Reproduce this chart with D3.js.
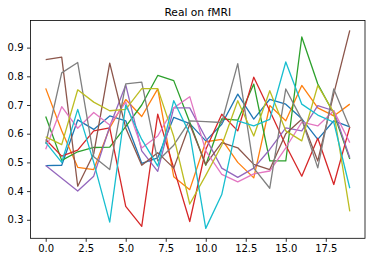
<!DOCTYPE html>
<meta charset="utf-8">
<html>
<head>
<title>Real on fMRI</title>
<script src="https://d3js.org/d3.v7.min.js"></script>
<style>
  body { margin: 0; background: #fff; }
  text { font-family: "DejaVu Sans", sans-serif; fill: #000; }
  .axis path, .axis line { stroke: #000; stroke-width: 0.8px; }
  .axis text { font-size: 10px; }
</style>
</head>
<body>
<div id="chart"></div>
<script>
// time steps 0..19
var steps = d3.range(20);

var xTicks = [0, 2.5, 5, 7.5, 10, 12.5, 15, 17.5];
var yTicks = [0.3, 0.4, 0.5, 0.6, 0.7, 0.8, 0.9];

// one array per run
var s0 = [0.489, 0.49, 0.648, 0.615, 0.662, 0.645, 0.497, 0.516, 0.657, 0.635, 0.575, 0.633, 0.738, 0.651, 0.72, 0.703, 0.652, 0.58, 0.645, 0.624];
var s1 = [0.758, 0.61, 0.483, 0.475, 0.62, 0.719, 0.66, 0.756, 0.45, 0.405, 0.572, 0.58, 0.5, 0.446, 0.698, 0.645, 0.768, 0.69, 0.662, 0.703];
var s2 = [0.66, 0.507, 0.537, 0.552, 0.553, 0.625, 0.7, 0.803, 0.785, 0.64, 0.49, 0.652, 0.647, 0.773, 0.505, 0.505, 0.937, 0.773, 0.67, 0.512];
var s3 = [0.58, 0.522, 0.543, 0.61, 0.62, 0.347, 0.277, 0.668, 0.48, 0.294, 0.545, 0.668, 0.61, 0.797, 0.68, 0.56, 0.452, 0.584, 0.423, 0.624];
var s4 = [0.489, 0.445, 0.4, 0.452, 0.625, 0.77, 0.54, 0.469, 0.69, 0.69, 0.585, 0.48, 0.448, 0.48, 0.545, 0.62, 0.61, 0.698, 0.68, 0.516];
var s5 = [0.858, 0.867, 0.417, 0.53, 0.846, 0.62, 0.49, 0.534, 0.48, 0.633, 0.493, 0.569, 0.551, 0.493, 0.475, 0.6, 0.65, 0.505, 0.74, 0.96];
var s6 = [0.546, 0.694, 0.619, 0.674, 0.63, 0.71, 0.55, 0.592, 0.69, 0.729, 0.54, 0.458, 0.432, 0.46, 0.47, 0.551, 0.64, 0.627, 0.68, 0.569];
var s7 = [0.565, 0.812, 0.848, 0.52, 0.475, 0.774, 0.78, 0.505, 0.56, 0.645, 0.642, 0.639, 0.844, 0.48, 0.41, 0.756, 0.65, 0.481, 0.756, 0.621];
var s8 = [0.589, 0.562, 0.753, 0.71, 0.68, 0.685, 0.757, 0.757, 0.59, 0.355, 0.455, 0.56, 0.715, 0.592, 0.75, 0.61, 0.575, 0.768, 0.674, 0.329];
var s9 = [0.57, 0.5, 0.685, 0.5, 0.292, 0.7, 0.58, 0.487, 0.715, 0.6, 0.27, 0.388, 0.645, 0.627, 0.65, 0.85, 0.703, 0.665, 0.64, 0.41];

var series = [s0, s1, s2, s3, s4, s5, s6, s7, s8, s9];
var colors = ["#1f77b4", "#ff7f0e", "#2ca02c", "#d62728", "#9467bd",
              "#8c564b", "#e377c2", "#7f7f7f", "#bcbd22", "#17becf"];

var margin = {top: 20.5, right: 7, bottom: 23.7, left: 30.5},
    width = 372 - margin.left - margin.right,
    height = 262 - margin.top - margin.bottom;

var svg = d3.select("#chart")
  .append("svg")
    .attr("width", 372)
    .attr("height", 262)
  .append("g")
    .attr("transform", "translate(" + margin.left + "," + margin.top + ")");

// matplotlib style 5% padding on both axes
var xPad = 19 * 0.05;
var x = d3.scaleLinear()
  .domain([-xPad, 19 + xPad])
  .range([0, width]);

var all = series.flat();
var yMin = d3.min(all), yMax = d3.max(all);
var yPad = (yMax - yMin) * 0.05;
var y = d3.scaleLinear()
  .domain([yMin - yPad, yMax + yPad])
  .range([height, 0]);

var line = d3.line()
  .x(function(d, i) { return x(steps[i]); })
  .y(function(d) { return y(d); });

svg.selectAll("runLines")
  .data(series)
  .enter()
  .append("path")
    .attr("d", line)
    .attr("fill", "none")
    .attr("stroke", function(d, i) { return colors[i]; })
    .attr("stroke-width", 1.3)
    .attr("stroke-linejoin", "round");

// axes
svg.append("g")
  .attr("class", "axis")
  .attr("transform", "translate(0," + height + ")")
  .call(d3.axisBottom(x).tickValues(xTicks).tickFormat(d3.format(".1f")).tickSizeInner(3.5).tickSizeOuter(0).tickPadding(3.5))
  .select(".domain").remove();

svg.append("g")
  .attr("class", "axis")
  .call(d3.axisLeft(y).tickValues(yTicks).tickFormat(d3.format(".1f")).tickSizeInner(3.5).tickSizeOuter(0).tickPadding(3.5))
  .select(".domain").remove();

// frame
svg.append("rect")
  .attr("width", width)
  .attr("height", height)
  .attr("fill", "none")
  .attr("stroke", "#000")
  .attr("stroke-width", 0.8);

svg.append("text")
  .attr("x", width / 2)
  .attr("y", -4.5)
  .style("text-anchor", "middle")
  .style("font-size", "10.7px")
  .text("Real on fMRI");
</script>
</body>
</html>
